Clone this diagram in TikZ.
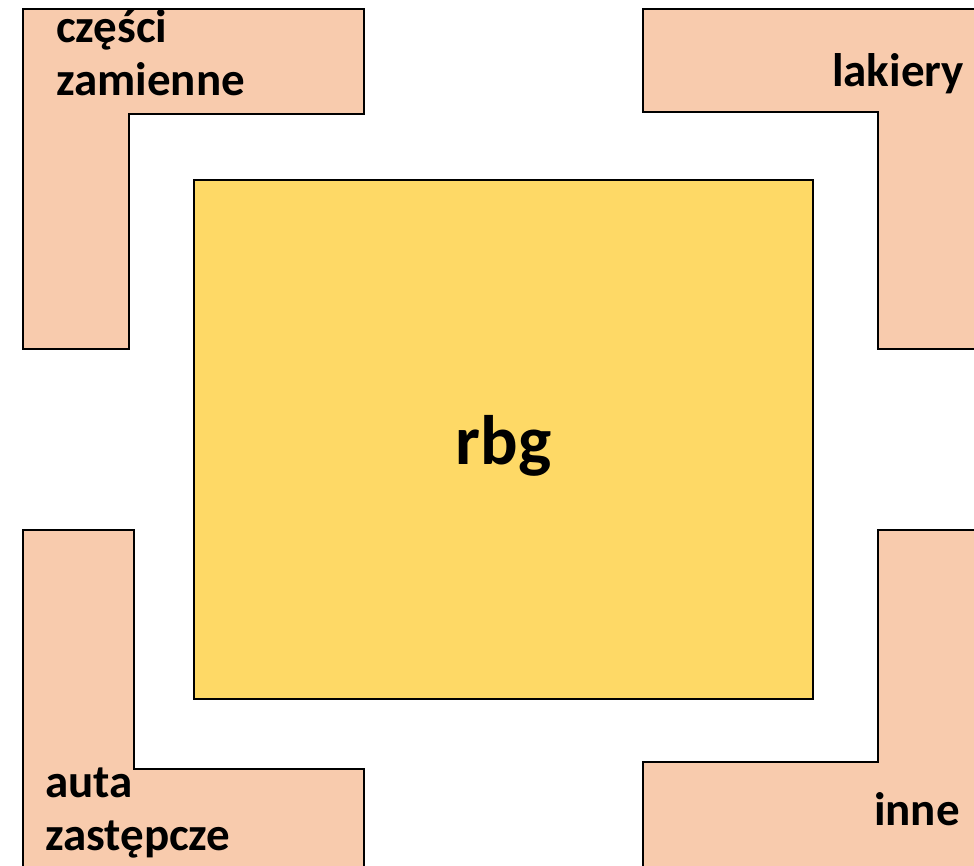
\documentclass[tikz,border=0pt]{standalone}
\usepackage{fontspec}
\setmainfont{Carlito}
\definecolor{peach}{HTML}{F8CBAD}
\definecolor{gold}{HTML}{FED966}
\tikzset{
  lshape/.style={fill=peach, draw=black, line width=2.5pt, line join=miter},
  centerbox/.style={fill=gold, draw=black, line width=2.5pt},
  lbl/.style={inner sep=0pt, font=\fontsize{47}{53}\selectfont\bfseries, align=left},
  bigl/.style={inner sep=0pt, font=\fontsize{70}{80}\selectfont\bfseries}
}
\begin{document}
\begin{tikzpicture}[x=1pt,y=-1pt]
\useasboundingbox (0,0) rectangle (974,866);
\clip (0,0) rectangle (974,866);
\fill[white] (0,0) rectangle (974,866);
% L shapes
\draw[lshape] (23,9) -- (364,9) -- (364,114) -- (129,114) -- (129,349) -- (23,349) -- cycle;
\draw[lshape] (643,9) -- (990,9) -- (990,349) -- (878,349) -- (878,112) -- (643,112) -- cycle;
\draw[lshape] (23,530) -- (134,530) -- (134,769) -- (364,769) -- (364,890) -- (23,890) -- cycle;
\draw[lshape] (878,530) -- (990,530) -- (990,890) -- (643,890) -- (643,762) -- (878,762) -- cycle;
% centre
\draw[centerbox] (194,180) rectangle (813,699);
\node[bigl, anchor=base] (rbg) at (503.5,464) {rbg};
% labels
\node[lbl, anchor=base west] (czesci) at (56,43) {części};
\node[lbl, anchor=base west] (zamienne) at (56,96) {zamienne};
\node[lbl, anchor=base east] (lakiery) at (964,87) {lakiery};
\node[lbl, anchor=base west] (auta) at (45,797) {auta};
\node[lbl, anchor=base west] (zastepcze) at (45,850) {zastępcze};
\node[lbl, anchor=base east] (inne) at (960,825) {inne};
\end{tikzpicture}
\end{document}
